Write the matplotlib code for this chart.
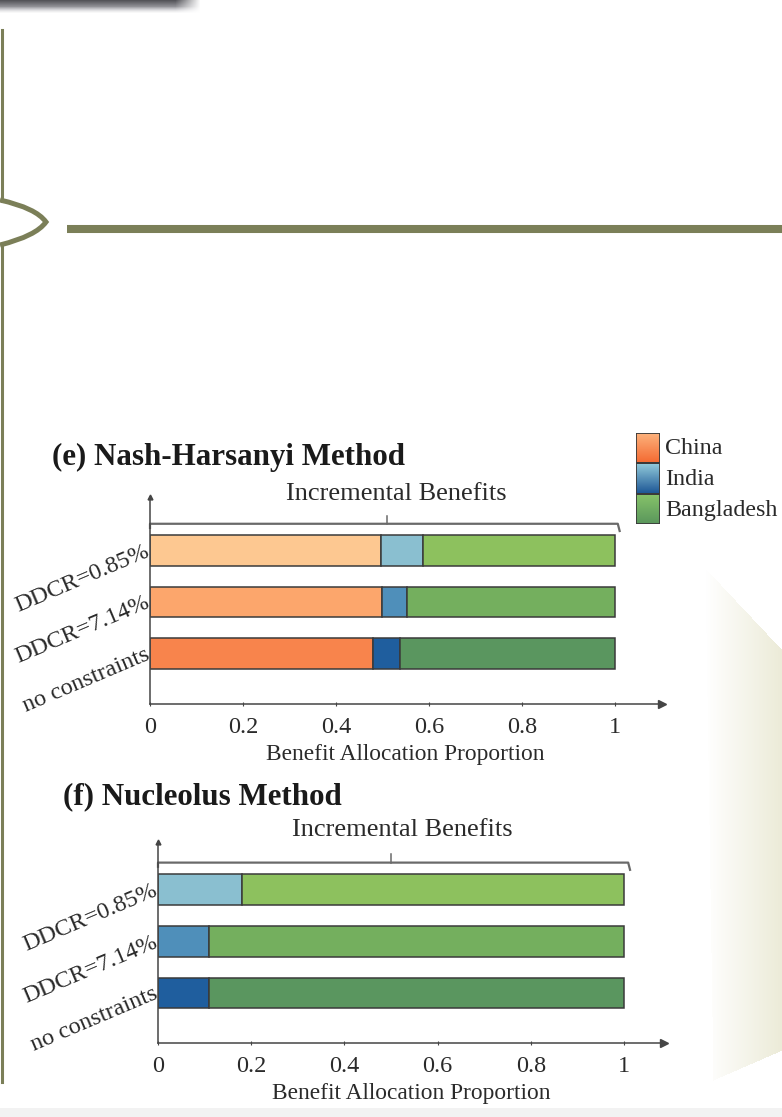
import numpy as np
import matplotlib.pyplot as plt
from matplotlib.path import Path
from matplotlib.patches import PathPatch, Rectangle
from matplotlib.lines import Line2D

plt.rcParams['font.family'] = ['Liberation Serif', 'DejaVu Serif']

# scenarios, listed top to bottom
scenarios = ['DDCR=0.85%', 'DDCR=7.14%', 'no constraints']
countries = ['China', 'India', 'Bangladesh']
x_ticks = [0, 0.2, 0.4, 0.6, 0.8, 1]
x_tick_labels = ['0', '0.2', '0.4', '0.6', '0.8', '1']

# (e) Nash-Harsanyi shares
nh_china = [0.497, 0.499, 0.480]
nh_india = [0.090, 0.054, 0.058]
nh_bangladesh = [0.413, 0.447, 0.462]

# (f) Nucleolus shares
nu_china = [0.0, 0.0, 0.0]
nu_india = [0.180, 0.109, 0.109]
nu_bangladesh = [0.820, 0.891, 0.891]

# one shade per scenario row (light -> dark)
china_colors = ['#FDC891', '#FCA66C', '#F8844C']
india_colors = ['#8ABFD0', '#4F8FBA', '#1F5E9E']
bangladesh_colors = ['#8DC15E', '#74AF5E', '#5A965F']
legend_grad = {'China': ('#FDB47E', '#F46A32'),
               'India': ('#92CADA', '#1C5695'),
               'Bangladesh': ('#88C46A', '#5A975C')}

W, H = 782, 1117
olive = '#7B7F58'
axis_col = '#454545'
text_col = '#2a2a2a'

fig = plt.figure(figsize=(W / 100, H / 100), dpi=100)


def fx(px):
    return px / W


def fy(py):
    return 1 - py / H


def hex_rgb(c):
    c = c.lstrip('#')
    return np.array([int(c[i:i + 2], 16) / 255 for i in (0, 2, 4)])


# ---- background decorations ----
# grey shadow bar at the top left
bar = np.zeros((16, 205, 4))
rows = np.arange(16)[:, None]
cols = np.arange(205)[None, :]
ay = np.clip((13 - rows) / 7, 0, 1)
ax_ = np.clip((200 - cols) / 25, 0, 1)
shade = np.clip(0.33 + rows * 0.04, 0, 1)
bar[..., 0] = shade
bar[..., 1] = shade
bar[..., 2] = shade + 0.02
bar[..., 3] = ay * ax_
fig.figimage(bar, xo=0, yo=H - 16, origin='upper', zorder=0)

# cream gradient panel on the right
x0, y0 = 695, 560
gw, gh = W - x0, 1090 - y0
gx, gy = np.meshgrid(np.arange(gw) + x0, np.arange(gh) + y0)
poly = Path([(705, 568), (782, 650), (782, 1050), (713, 1080)])
inside = poly.contains_points(np.c_[gx.ravel(), gy.ravel()]).reshape(gh, gw)
t = np.clip((gx - 705) / 80, 0, 1)
cream = hex_rgb('#EBEAD6')
panel = np.ones((gh, gw, 4))
panel[..., :3] = cream
panel[..., 3] = t * inside
fig.figimage(panel, xo=x0, yo=H - 1090, origin='upper', zorder=0)

# light strip at the bottom
strip = np.ones((9, W, 4))
strip[..., :3] = 0.95
fig.figimage(strip, xo=0, yo=0, origin='upper', zorder=0)

# left rail with the brace and the horizontal rule
lw_rail = 2.2
fig.add_artist(Line2D([fx(2), fx(2)], [fy(30), fy(201)], color=olive, lw=lw_rail,
                      transform=fig.transFigure))
fig.add_artist(Line2D([fx(2), fx(2)], [fy(244), fy(1082)], color=olive, lw=lw_rail,
                      transform=fig.transFigure))
brace = Path([(fx(0), fy(200)), (fx(36), fy(208)), (fx(46), fy(222)),
              (fx(36), fy(236)), (fx(0), fy(245))],
             [Path.MOVETO, Path.CURVE3, Path.CURVE3, Path.CURVE3, Path.CURVE3])
fig.add_artist(PathPatch(brace, fill=False, ec=olive, lw=3.6, transform=fig.transFigure))
fig.add_artist(Line2D([fx(67), fx(782)], [fy(229), fy(229)], color=olive, lw=5.8,
                      solid_capstyle='butt', transform=fig.transFigure))


# ---- bar panels ----
def panel_axes(left, right, top, bottom, xmax, ylo, yhi):
    ax = fig.add_axes([fx(left), fy(bottom), fx(right) - fx(left), (bottom - top) / H])
    ax.set_facecolor('none')
    ax.set_xlim(0, xmax)
    ax.set_ylim(ylo, yhi)
    for s in ('top', 'right'):
        ax.spines[s].set_visible(False)
    for s in ('left', 'bottom'):
        ax.spines[s].set_color(axis_col)
        ax.spines[s].set_linewidth(1.1)
    ax.plot(1, 0, '>', ms=6, color=axis_col, transform=ax.transAxes, clip_on=False)
    ax.plot(0, 1, '^', ms=3.5, color=axis_col, transform=ax.transAxes, clip_on=False)
    return ax


def draw_panel(ax, china, india, bangladesh, brace_y, brace_right, brace_mid,
               label_xy):
    ypos = [2, 1, 0]
    ax.barh(ypos, china, height=0.6, color=china_colors, edgecolor='#3a3a3a', lw=1.1)
    ax.barh(ypos, india, left=china, height=0.6, color=india_colors,
            edgecolor='#3a3a3a', lw=1.1)
    ax.barh(ypos, bangladesh, left=np.add(china, india), height=0.6,
            color=bangladesh_colors, edgecolor='#3a3a3a', lw=1.1)

    # bracket over the bars
    ax.plot([0, 0, brace_right, brace_right + 0.004],
            [brace_y - 0.08, brace_y, brace_y, brace_y - 0.14],
            color='#6a6a6a', lw=1.6, clip_on=False)
    ax.plot([brace_mid, brace_mid], [brace_y, brace_y + 0.16], color='#6a6a6a',
            lw=1.1, clip_on=False)
    ax.text(label_xy[0], label_xy[1], 'Incremental Benefits', ha='center',
            va='center', fontsize=19, color=text_col)

    ax.set_xticks(x_ticks)
    ax.set_xticklabels(x_tick_labels, fontsize=17.5, color=text_col)
    ax.tick_params(axis='x', direction='inout', length=3, width=0.8,
                   colors=axis_col, labelcolor=text_col, pad=8)
    ax.set_yticks(ypos)
    ax.set_yticklabels(scenarios, fontsize=17.5, color=text_col, rotation=23,
                       ha='right', va='center', rotation_mode='anchor')
    ax.tick_params(axis='y', length=0, pad=1)
    ax.set_xlabel('Benefit Allocation Proportion', fontsize=16.8, color=text_col,
                  labelpad=4)


ax_e = panel_axes(150, 661.5, 497, 704, 1.1, -0.98, 3.04)
draw_panel(ax_e, nh_china, nh_india, nh_bangladesh, brace_y=2.52,
           brace_right=1.006, brace_mid=0.51, label_xy=(0.53, 3.10))

ax_f = panel_axes(158, 663.6, 842, 1043, 1.085, -0.97, 2.93)
draw_panel(ax_f, nu_china, nu_india, nu_bangladesh, brace_y=2.53,
           brace_right=1.009, brace_mid=0.50, label_xy=(0.524, 3.17))

fig.text(fx(52), fy(457), '(e) Nash-Harsanyi Method', fontsize=22.3,
         fontweight='bold', color='#1a1a1a', ha='left', va='center')
fig.text(fx(63), fy(797), '(f) Nucleolus Method', fontsize=22.3,
         fontweight='bold', color='#1a1a1a', ha='left', va='center')

# ---- legend with shaded swatches ----
lg = fig.add_axes([fx(636), fy(524), fx(660) - fx(636), 91 / H])
lg.set_xlim(0, 1)
lg.set_ylim(0, 3)
lg.axis('off')
for i, name in enumerate(countries):
    top_c, bot_c = legend_grad[name]
    ramp = np.linspace(0, 1, 32)[:, None]
    img = hex_rgb(top_c) * (1 - ramp[..., None]) + hex_rgb(bot_c) * ramp[..., None]
    img = np.repeat(img, 4, axis=1)
    y_hi = 3 - i
    lg.imshow(img, extent=(0, 1, y_hi - 1, y_hi), aspect='auto', origin='upper')
    lg.add_patch(Rectangle((0, y_hi - 1), 1, 1, fill=False, ec='#3a3a3a', lw=1.3))
    fig.text(fx(665), fy(448 + 31.5 * i), name, fontsize=17.3, color=text_col,
             ha='left', va='center')
lg.set_xlim(0, 1)
lg.set_ylim(0, 3)

fig.savefig('out.png', dpi=100)
